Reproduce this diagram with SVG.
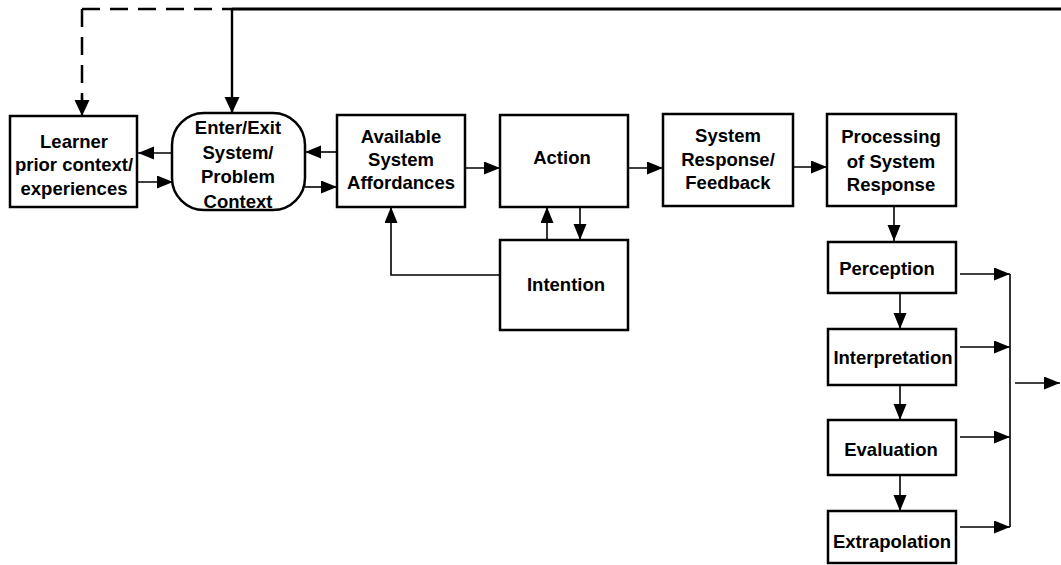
<svg xmlns="http://www.w3.org/2000/svg" width="1061" height="565" viewBox="0 0 1061 565">
<defs>
<marker id="ah" markerUnits="userSpaceOnUse" markerWidth="17" markerHeight="14" refX="16" refY="6.5" orient="auto">
<path d="M0,0 L16,6.5 L0,13 Z" fill="#000"/>
</marker>
<marker id="ahb" markerUnits="userSpaceOnUse" markerWidth="17" markerHeight="16" refX="16" refY="7.5" orient="auto">
<path d="M0,0 L16,7.5 L0,15 Z" fill="#000"/>
</marker>
<style>
.box{fill:#fff;stroke:#000;stroke-width:2.5}
.t{font-family:"Liberation Sans",Arial,sans-serif;font-weight:bold;font-size:18.5px;fill:#000;text-anchor:middle}
.c{fill:none;stroke:#000;stroke-width:1.6}
.ca{fill:none;stroke:#000;stroke-width:1.6;marker-end:url(#ah)}
</style>
</defs>
<rect width="1061" height="565" fill="#fff"/>
<g id="connectors">
<path d="M82,9 H232" fill="none" stroke="#000" stroke-width="2.5" stroke-dasharray="18,10"/>
<path d="M82,9 V100" fill="none" stroke="#000" stroke-width="2.5" stroke-dasharray="18,10"/>
<path d="M82,95 V116" fill="none" stroke="#000" stroke-width="2.2" marker-end="url(#ahb)"/>
<path d="M232,9 H1061" fill="none" stroke="#000" stroke-width="3"/>
<path d="M232,9 V113" fill="none" stroke="#000" stroke-width="2.4" marker-end="url(#ahb)"/>
<path d="M172,153 H138" class="ca"/>
<path d="M138,182 H173" class="ca"/>
<path d="M337,152 H305" class="ca"/>
<path d="M305,187 H337" class="ca"/>
<path d="M465,168 H500" class="ca"/>
<path d="M547,240 V207" class="ca"/>
<path d="M580,207 V240" class="ca"/>
<path d="M500,275 H391 V207" class="ca"/>
<path d="M628,168 H663" class="ca"/>
<path d="M793,167 H827" class="ca"/>
<path d="M894,206 V241" class="ca"/>
<path d="M900,293 V329" class="ca"/>
<path d="M900,385 V420" class="ca"/>
<path d="M900,475 V511" class="ca"/>
<path d="M960,274 H1010" class="ca"/>
<path d="M960,347 H1010" class="ca"/>
<path d="M960,437 H1010" class="ca"/>
<path d="M960,527 H1010" class="ca"/>
<path d="M1010,274 V527" class="c"/>
<path d="M1015,383 H1060" class="ca"/>
</g>
<g id="learner">
<rect class="box" x="10" y="116" width="127" height="91"/>
<text class="t" x="74" y="148">Learner</text>
<text class="t" x="74" y="171">prior context/</text>
<text class="t" x="74" y="195">experiences</text>
</g>
<g id="enterexit">
<rect class="box" x="172" y="113" width="133" height="97" rx="32" ry="32"/>
<text class="t" x="238" y="134">Enter/Exit</text>
<text class="t" x="238" y="159">System/</text>
<text class="t" x="238" y="183">Problem</text>
<text class="t" x="238" y="208">Context</text>
</g>
<g id="affordances">
<rect class="box" x="337" y="115" width="128" height="92"/>
<text class="t" x="401" y="143">Available</text>
<text class="t" x="401" y="166">System</text>
<text class="t" x="401" y="189">Affordances</text>
</g>
<g id="action">
<rect class="box" x="500" y="115" width="128" height="92"/>
<text class="t" x="562" y="164">Action</text>
</g>
<g id="intention">
<rect class="box" x="500" y="240" width="128" height="90"/>
<text class="t" x="566" y="291">Intention</text>
</g>
<g id="sysresp">
<rect class="box" x="663" y="114" width="130" height="92"/>
<text class="t" x="728" y="142">System</text>
<text class="t" x="728" y="166">Response/</text>
<text class="t" x="728" y="189">Feedback</text>
</g>
<g id="processing">
<rect class="box" x="827" y="114" width="129" height="92"/>
<text class="t" x="891" y="143">Processing</text>
<text class="t" x="891" y="168">of System</text>
<text class="t" x="891" y="191">Response</text>
</g>
<g id="perception">
<rect class="box" x="828" y="242" width="128" height="51"/>
<text class="t" x="887" y="275">Perception</text>
</g>
<g id="interpretation">
<rect class="box" x="828" y="329" width="128" height="56"/>
<text class="t" x="893" y="364">Interpretation</text>
</g>
<g id="evaluation">
<rect class="box" x="828" y="420" width="128" height="55"/>
<text class="t" x="891" y="456">Evaluation</text>
</g>
<g id="extrapolation">
<rect class="box" x="828" y="511" width="128" height="52"/>
<text class="t" x="892" y="548">Extrapolation</text>
</g>
</svg>
